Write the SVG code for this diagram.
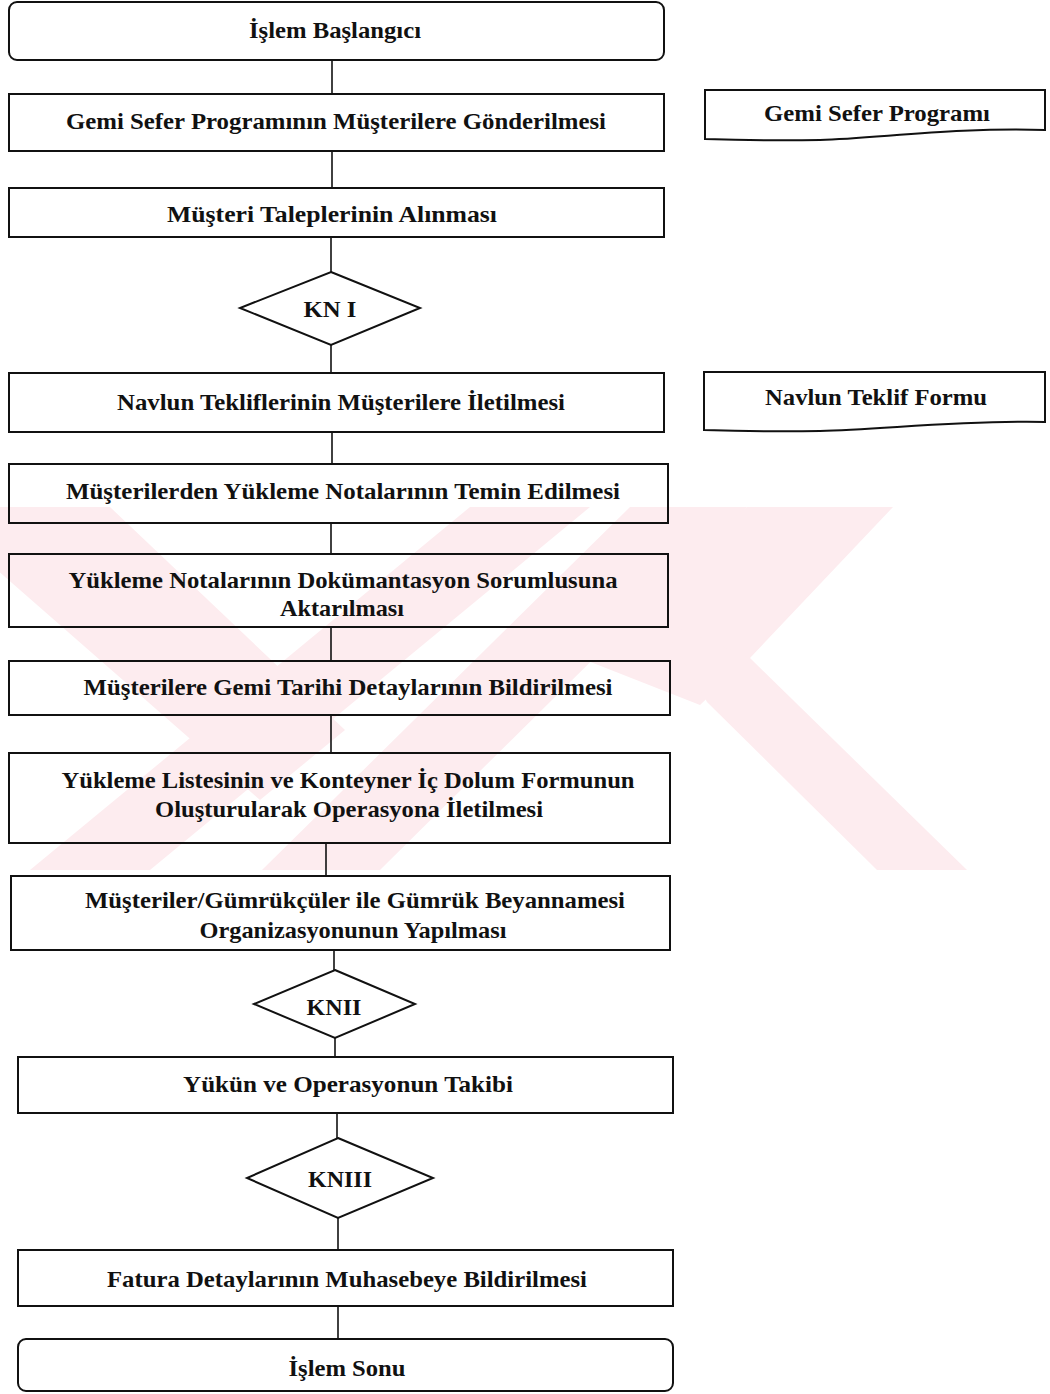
<svg xmlns="http://www.w3.org/2000/svg" width="1050" height="1394" viewBox="0 0 1050 1394">
  <style>
    .box { fill: none; stroke: #111; stroke-width: 2; }
    .dec { fill: none; stroke: #111; stroke-width: 2; stroke-linejoin: miter; }
    .lbl { font-family: "Liberation Serif", "Times New Roman", serif; font-weight: bold; font-size: 24px; fill: #111; text-anchor: middle; }
    .link { stroke: #111; stroke-width: 1.6; fill: none; }
    .wm { fill: #fdecef; }
  </style>
  <defs>
    <clipPath id="wmClip">
      <rect x="0" y="507" width="1050" height="363"/>
    </clipPath>
  </defs>

  <rect width="1050" height="1394" fill="#ffffff"/>

  <!-- faint background mark -->
  <g id="watermark" clip-path="url(#wmClip)">
    <polygon class="wm" points="-60,507 110,507 345,730 260,800 -60,520"/>
    <polygon class="wm" points="470,507 590,507 150,870 30,870"/>
    <polygon class="wm" points="630,507 747,507 380,870 262,870"/>
    <polygon class="wm" points="747,507 893,507 750,658 700,705 560,650"/>
    <polygon class="wm" points="660,620 750,658 967,870 877,870 707,702"/>
  </g>

  <!-- connectors -->
  <g id="connectors">
    <line class="link" x1="332" y1="60" x2="332" y2="94"/>
    <line class="link" x1="332" y1="151" x2="332" y2="188"/>
    <line class="link" x1="331" y1="237" x2="331" y2="272"/>
    <line class="link" x1="331" y1="345" x2="331" y2="373"/>
    <line class="link" x1="332" y1="432" x2="332" y2="464"/>
    <line class="link" x1="331" y1="523" x2="331" y2="554"/>
    <line class="link" x1="331" y1="627" x2="331" y2="661"/>
    <line class="link" x1="331" y1="715" x2="331" y2="753"/>
    <line class="link" x1="326" y1="843" x2="326" y2="876"/>
    <line class="link" x1="334" y1="950" x2="334" y2="970"/>
    <line class="link" x1="335" y1="1038" x2="335" y2="1057"/>
    <line class="link" x1="337" y1="1113" x2="337" y2="1138"/>
    <line class="link" x1="338" y1="1218" x2="338" y2="1250"/>
    <line class="link" x1="338" y1="1306" x2="338" y2="1339"/>
  </g>

  <g id="start">
    <rect class="box" x="9" y="2" width="655" height="58" rx="8"/>
    <text class="lbl" x="335" y="38" textLength="172" lengthAdjust="spacingAndGlyphs">İşlem Başlangıcı</text>
  </g>

  <g id="step-schedule">
    <rect class="box" x="9" y="94" width="655" height="57"/>
    <text class="lbl" x="336" y="129" textLength="540" lengthAdjust="spacingAndGlyphs">Gemi Sefer Programının Müşterilere Gönderilmesi</text>
  </g>

  <g id="doc-schedule">
    <path class="box" d="M705,90 H1045 V130 C960,127 880,138 820,140 C770,141 735,140 705,139 Z"/>
    <text class="lbl" x="877" y="121" textLength="226" lengthAdjust="spacingAndGlyphs">Gemi Sefer Programı</text>
  </g>

  <g id="step-requests">
    <rect class="box" x="9" y="188" width="655" height="49"/>
    <text class="lbl" x="332" y="222" textLength="330" lengthAdjust="spacingAndGlyphs">Müşteri Taleplerinin Alınması</text>
  </g>

  <g id="check-1">
    <polygon class="dec" points="331,272 420,308 331,345 240,308"/>
    <text class="lbl" x="330" y="317" textLength="53" lengthAdjust="spacingAndGlyphs">KN I</text>
  </g>

  <g id="step-offers">
    <rect class="box" x="9" y="373" width="655" height="59"/>
    <text class="lbl" x="341" y="410" textLength="448" lengthAdjust="spacingAndGlyphs">Navlun Tekliflerinin Müşterilere İletilmesi</text>
  </g>

  <g id="doc-offer">
    <path class="box" d="M704,372 H1045 V422 C960,420 880,430 820,431 C770,432 735,431 704,430 Z"/>
    <text class="lbl" x="876" y="405" textLength="222" lengthAdjust="spacingAndGlyphs">Navlun Teklif Formu</text>
  </g>

  <g id="step-notes">
    <rect class="box" x="9" y="464" width="659" height="59"/>
    <text class="lbl" x="343" y="499" textLength="554" lengthAdjust="spacingAndGlyphs">Müşterilerden Yükleme Notalarının Temin Edilmesi</text>
  </g>

  <g id="step-transfer">
    <rect class="box" x="9" y="554" width="659" height="73"/>
    <text class="lbl" x="343" y="588" textLength="549" lengthAdjust="spacingAndGlyphs">Yükleme Notalarının Dokümantasyon Sorumlusuna</text>
    <text class="lbl" x="342" y="616" textLength="124" lengthAdjust="spacingAndGlyphs">Aktarılması</text>
  </g>

  <g id="step-dates">
    <rect class="box" x="9" y="661" width="661" height="54"/>
    <text class="lbl" x="348" y="695" textLength="529" lengthAdjust="spacingAndGlyphs">Müşterilere Gemi Tarihi Detaylarının Bildirilmesi</text>
  </g>

  <g id="step-loadlist">
    <rect class="box" x="9" y="753" width="661" height="90"/>
    <text class="lbl" x="348" y="788" textLength="573" lengthAdjust="spacingAndGlyphs">Yükleme Listesinin ve Konteyner İç Dolum Formunun</text>
    <text class="lbl" x="349" y="817" textLength="388" lengthAdjust="spacingAndGlyphs">Oluşturularak Operasyona İletilmesi</text>
  </g>

  <g id="step-customs">
    <rect class="box" x="11" y="876" width="659" height="74"/>
    <text class="lbl" x="355" y="908" textLength="540" lengthAdjust="spacingAndGlyphs">Müşteriler/Gümrükçüler ile Gümrük Beyannamesi</text>
    <text class="lbl" x="353" y="938" textLength="307" lengthAdjust="spacingAndGlyphs">Organizasyonunun Yapılması</text>
  </g>

  <g id="check-2">
    <polygon class="dec" points="335,970 415,1004 335,1038 254,1004"/>
    <text class="lbl" x="334" y="1015" textLength="55" lengthAdjust="spacingAndGlyphs">KNII</text>
  </g>

  <g id="step-tracking">
    <rect class="box" x="18" y="1057" width="655" height="56"/>
    <text class="lbl" x="348" y="1092" textLength="330" lengthAdjust="spacingAndGlyphs">Yükün ve Operasyonun Takibi</text>
  </g>

  <g id="check-3">
    <polygon class="dec" points="338,1138 433,1178 338,1218 247,1178"/>
    <text class="lbl" x="340" y="1187" textLength="64" lengthAdjust="spacingAndGlyphs">KNIII</text>
  </g>

  <g id="step-invoice">
    <rect class="box" x="18" y="1250" width="655" height="56"/>
    <text class="lbl" x="347" y="1287" textLength="480" lengthAdjust="spacingAndGlyphs">Fatura Detaylarının Muhasebeye Bildirilmesi</text>
  </g>

  <g id="end">
    <rect class="box" x="18" y="1339" width="655" height="52" rx="8"/>
    <text class="lbl" x="347" y="1376" textLength="117" lengthAdjust="spacingAndGlyphs">İşlem Sonu</text>
  </g>
</svg>
